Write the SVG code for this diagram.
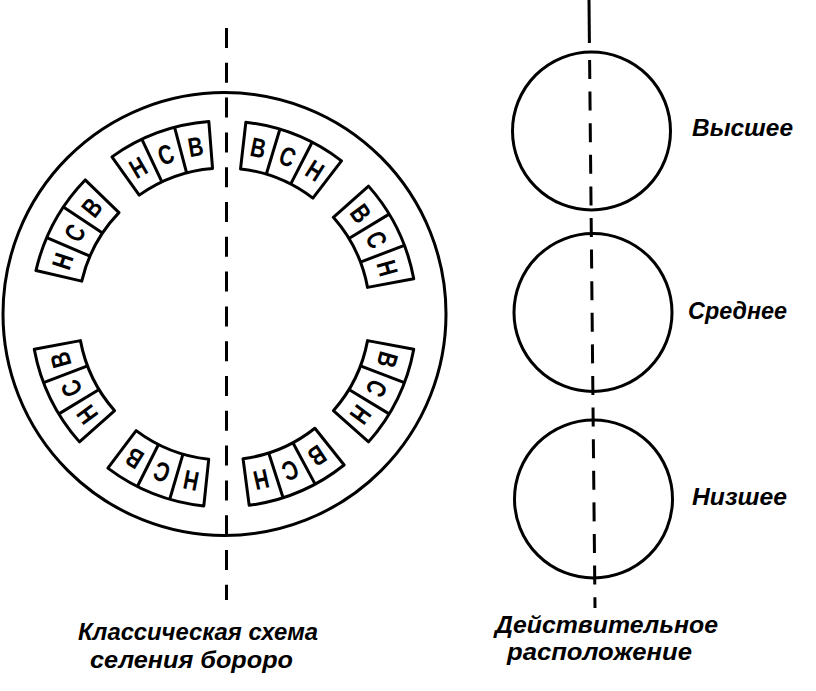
<svg xmlns="http://www.w3.org/2000/svg" xmlns:xlink="http://www.w3.org/1999/xlink" width="816" height="691" viewBox="0 0 816 691">
<style>
.ln{fill:none;stroke:#000;stroke-width:3}
.blk{fill:#fff;stroke:#000;stroke-width:3;stroke-linejoin:round}
.dash{fill:none;stroke:#000;stroke-width:3}
.let{font-family:"Liberation Sans",Arial,sans-serif;font-size:27px;font-weight:bold;text-anchor:middle;fill:#000}
.lab{font-family:"Liberation Sans",Arial,sans-serif;font-size:24px;font-style:italic;font-weight:bold;fill:#000}
</style>
<defs>
<g id="blk">
<path class="blk" d="M172.43,128.03 A193,193 0 0 1 275.57,128.03 L263.01,173.31 A146,146 0 0 0 184.99,173.31 Z"/>
<path class="ln" d="M206.61,121.79 L210.85,168.6 M241.39,121.79 L237.15,168.6"/>
</g>
</defs>
<rect width="816" height="691" fill="#fff"/>
<g id="village">
<circle class="ln" cx="224.5" cy="314" r="221.5"/>
</g>
<g id="block-L1" transform="rotate(-20 224 314)">
<use xlink:href="#blk"/>
<text class="let" x="224" y="153.7" textLength="15" lengthAdjust="spacingAndGlyphs" transform="rotate(-10.33 224 314)">Н</text>
<text class="let" x="224" y="153.7" textLength="15" lengthAdjust="spacingAndGlyphs">С</text>
<text class="let" x="224" y="153.7" textLength="15" lengthAdjust="spacingAndGlyphs" transform="rotate(10.33 224 314)">В</text>
</g>
<g id="block-L2" transform="rotate(-61.5 224 314)">
<use xlink:href="#blk"/>
<text class="let" x="224" y="153.7" textLength="15" lengthAdjust="spacingAndGlyphs" transform="rotate(-10.33 224 314)">Н</text>
<text class="let" x="224" y="153.7" textLength="15" lengthAdjust="spacingAndGlyphs">С</text>
<text class="let" x="224" y="153.7" textLength="15" lengthAdjust="spacingAndGlyphs" transform="rotate(10.33 224 314)">В</text>
</g>
<g id="block-L3" transform="rotate(-116 224 314)">
<use xlink:href="#blk"/>
<text class="let" x="224" y="153.7" textLength="15" lengthAdjust="spacingAndGlyphs" transform="rotate(-10.33 224 314)">Н</text>
<text class="let" x="224" y="153.7" textLength="15" lengthAdjust="spacingAndGlyphs">С</text>
<text class="let" x="224" y="153.7" textLength="15" lengthAdjust="spacingAndGlyphs" transform="rotate(10.33 224 314)">В</text>
</g>
<g id="block-L4" transform="rotate(-158.5 224 314)">
<use xlink:href="#blk"/>
<text class="let" x="224" y="153.7" textLength="15" lengthAdjust="spacingAndGlyphs" transform="rotate(-10.33 224 314)">Н</text>
<text class="let" x="224" y="153.7" textLength="15" lengthAdjust="spacingAndGlyphs">С</text>
<text class="let" x="224" y="153.7" textLength="15" lengthAdjust="spacingAndGlyphs" transform="rotate(10.33 224 314)">В</text>
</g>
<g id="block-R1" transform="rotate(22 224 314)">
<use xlink:href="#blk"/>
<text class="let" x="224" y="153.7" textLength="15" lengthAdjust="spacingAndGlyphs" transform="rotate(-10.33 224 314)">В</text>
<text class="let" x="224" y="153.7" textLength="15" lengthAdjust="spacingAndGlyphs">С</text>
<text class="let" x="224" y="153.7" textLength="15" lengthAdjust="spacingAndGlyphs" transform="rotate(10.33 224 314)">Н</text>
</g>
<g id="block-R2" transform="rotate(64 224 314)">
<use xlink:href="#blk"/>
<text class="let" x="224" y="153.7" textLength="15" lengthAdjust="spacingAndGlyphs" transform="rotate(-10.33 224 314)">В</text>
<text class="let" x="224" y="153.7" textLength="15" lengthAdjust="spacingAndGlyphs">С</text>
<text class="let" x="224" y="153.7" textLength="15" lengthAdjust="spacingAndGlyphs" transform="rotate(10.33 224 314)">Н</text>
</g>
<g id="block-R3" transform="rotate(116 224 314)">
<use xlink:href="#blk"/>
<text class="let" x="224" y="153.7" textLength="15" lengthAdjust="spacingAndGlyphs" transform="rotate(-10.33 224 314)">В</text>
<text class="let" x="224" y="153.7" textLength="15" lengthAdjust="spacingAndGlyphs">С</text>
<text class="let" x="224" y="153.7" textLength="15" lengthAdjust="spacingAndGlyphs" transform="rotate(10.33 224 314)">Н</text>
</g>
<g id="block-R4" transform="rotate(157 224 314)">
<use xlink:href="#blk"/>
<text class="let" x="224" y="153.7" textLength="15" lengthAdjust="spacingAndGlyphs" transform="rotate(-10.33 224 314)">В</text>
<text class="let" x="224" y="153.7" textLength="15" lengthAdjust="spacingAndGlyphs">С</text>
<text class="let" x="224" y="153.7" textLength="15" lengthAdjust="spacingAndGlyphs" transform="rotate(10.33 224 314)">Н</text>
</g>
<g id="circle-high"><circle class="ln" cx="591.5" cy="131" r="79"/></g>
<g id="circle-mid"><circle class="ln" cx="593" cy="312.5" r="79"/></g>
<g id="circle-low"><circle class="ln" cx="593.5" cy="499" r="79"/></g>
<g id="axes">
<line class="dash" x1="226.5" y1="28" x2="226.5" y2="600" stroke-dasharray="20 14.8"/>
<line class="dash" x1="589" y1="0" x2="589.4" y2="43"/>
<line class="dash" x1="589.6" y1="60" x2="595" y2="608" stroke-dasharray="19 12.6"/>
</g>
<g id="labels">
<text class="lab" x="692" y="136" textLength="101" lengthAdjust="spacingAndGlyphs">Высшее</text>
<text class="lab" x="688" y="319" textLength="99" lengthAdjust="spacingAndGlyphs">Среднее</text>
<text class="lab" x="692" y="505" textLength="95" lengthAdjust="spacingAndGlyphs">Низшее</text>
<text class="lab" x="78" y="640" textLength="240" lengthAdjust="spacingAndGlyphs">Классическая схема</text>
<text class="lab" x="90" y="668" textLength="203" lengthAdjust="spacingAndGlyphs">селения бороро</text>
<text class="lab" x="495" y="633" textLength="223" lengthAdjust="spacingAndGlyphs">Действительное</text>
<text class="lab" x="507" y="660" textLength="185" lengthAdjust="spacingAndGlyphs">расположение</text>
</g>
</svg>
